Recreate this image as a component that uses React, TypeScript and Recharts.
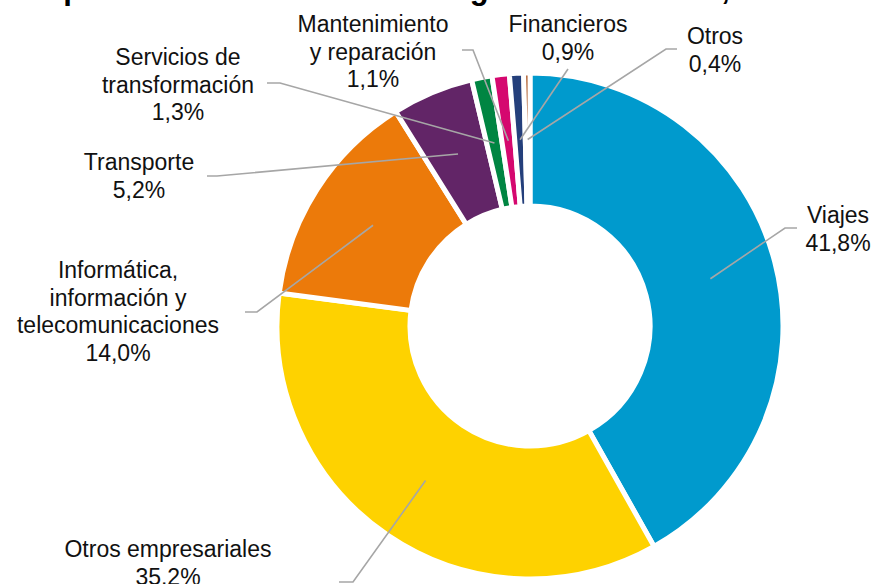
import React from "react";
import { Cell, Pie, PieChart } from "recharts";

// shares of service imports by category, clockwise from 12 o'clock
const CATEGORIES = [
	"Viajes",
	"Otros empresariales",
	"Informática,\ninformación y\ntelecomunicaciones",
	"Transporte",
	"Servicios de\ntransformación",
	"Mantenimiento\ny reparación",
	"Financieros",
	"Otros",
];
const SHARES = [41.8, 35.2, 14.0, 5.2, 1.3, 1.1, 0.9, 0.4];
const SHARE_LABELS = ["41,8%", "35.2%", "14,0%", "5,2%", "1,3%", "1,1%", "0,9%", "0,4%"];
const COLORS = [
	"#009ACD",
	"#FED200",
	"#EC7A0A",
	"#622567",
	"#008542",
	"#D5086F",
	"#243F7B",
	"#A4470F",
];

const TITLE = "Importaciones de servicios según clasificación, 2023";

// where each label text sits and where its leader line bends / ends
const LABEL_LAYOUT = [
	{ x: 838, y: 223, elbow: [785, 228], end: [797, 228] },
	{ x: 168, y: 557, elbow: [353, 582], end: [339, 582] },
	{ x: 118, y: 278, elbow: [257, 312], end: [245, 312] },
	{ x: 139, y: 170, elbow: [217, 176], end: [207, 176] },
	{ x: 178, y: 65, elbow: [280, 83], end: [267, 83] },
	{ x: 373, y: 32, elbow: [473, 50], end: [462, 50] },
	{ x: 568, y: 32, elbow: [568, 69], end: [568, 69] },
	{ x: 715, y: 44, elbow: [666, 49], end: [677, 49] },
];

const FONT = "'Liberation Sans', Arial, sans-serif";
const LINE_H = 27.5;

const data = CATEGORIES.map((name, i) => ({
	name,
	value: SHARES[i],
	pct: SHARE_LABELS[i],
}));

function renderLabel(props: any) {
	const { cx, cy, midAngle, innerRadius, outerRadius, index } = props;
	const lay = LABEL_LAYOUT[index];
	const r = (innerRadius + outerRadius) / 2;
	const rad = (-midAngle * Math.PI) / 180;
	const sx = cx + r * Math.cos(rad);
	const sy = cy + r * Math.sin(rad);
	const lines = [...CATEGORIES[index].split("\n"), SHARE_LABELS[index]];
	return (
		<g key={`lbl-${index}`}>
			<polyline
				points={`${sx},${sy} ${lay.elbow[0]},${lay.elbow[1]} ${lay.end[0]},${lay.end[1]}`}
				fill="none"
				stroke="#A6A6A6"
				strokeWidth={1.6}
			/>
			<text
				x={lay.x}
				y={lay.y}
				textAnchor="middle"
				fontFamily={FONT}
				fontSize={23}
				fill="#111"
			>
				{lines.map((t, k) => (
					<tspan key={k} x={lay.x} y={lay.y + k * LINE_H}>
						{t}
					</tspan>
				))}
			</text>
		</g>
	);
}

export default function App() {
	return (
		<div
			style={{
				position: "absolute",
				left: 0,
				top: 0,
				width: 876,
				height: 584,
				background: "#fff",
				overflow: "hidden",
			}}
		>
			<PieChart width={876} height={584} margin={{ top: 0, right: 0, bottom: 0, left: 0 }}>
				<Pie
					data={data}
					dataKey="value"
					nameKey="name"
					cx={530}
					cy={326}
					innerRadius={120}
					outerRadius={253}
					startAngle={90}
					endAngle={-270}
					stroke="#fff"
					strokeWidth={5}
					label={renderLabel}
					labelLine={false}
					isAnimationActive={false}
				>
					{data.map((d, i) => (
						<Cell key={d.name} fill={COLORS[i]} />
					))}
				</Pie>
			</PieChart>
			{/* title sits above the crop, only its descenders show */}
			<svg
				width={876}
				height={20}
				style={{ position: "absolute", left: 0, top: 0, pointerEvents: "none" }}
			>
				<text x={27} y={-1.5} fontFamily={FONT} fontWeight="bold" fontSize={31} fill="#000">
					{TITLE}
				</text>
			</svg>
		</div>
	);
}
